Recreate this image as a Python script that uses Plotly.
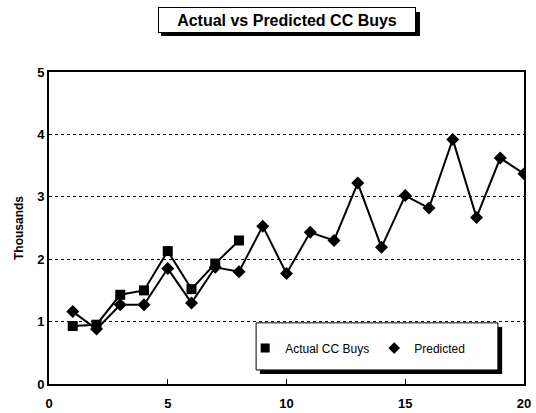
import plotly.graph_objects as go

x_actual = [1, 2, 3, 4, 5, 6, 7, 8]
actual = [0.93, 0.95, 1.43, 1.50, 2.13, 1.52, 1.93, 2.30]
x_pred = list(range(1, 21))
predicted = [1.16, 0.88, 1.27, 1.27, 1.85, 1.30, 1.87, 1.80, 2.53, 1.77,
             2.43, 2.30, 3.22, 2.19, 3.02, 2.82, 3.92, 2.67, 3.62, 3.37]
x_ticks = [0, 5, 10, 15, 20]
y_ticks = [0, 1, 2, 3, 4, 5]

FAM = "Liberation Sans, Arial, sans-serif"

fig = go.Figure()
fig.add_trace(go.Scatter(x=x_actual, y=actual, mode="lines+markers", name="Actual CC Buys",
                         showlegend=False,
                         line=dict(color="black", width=2),
                         marker=dict(symbol="square", size=10, color="black")))
fig.add_trace(go.Scatter(x=x_pred, y=predicted, mode="lines+markers", name="Predicted",
                         showlegend=False,
                         line=dict(color="black", width=2),
                         marker=dict(symbol="diamond", size=10, color="black")))
# legend entries (marker only, as in the reference legend)
fig.add_trace(go.Scatter(x=[None], y=[None], mode="markers", name="Actual CC Buys",
                         marker=dict(symbol="square", size=9, color="black")))
fig.add_trace(go.Scatter(x=[None], y=[None], mode="markers", name="Predicted",
                         marker=dict(symbol="diamond", size=9, color="black")))

shapes = [
    # legend shadow + box
    dict(type="rect", xref="paper", yref="paper", x0=0.444, x1=0.954, y0=0.032, y1=0.183,
         fillcolor="black", line=dict(width=0), layer="above"),
    dict(type="rect", xref="paper", yref="paper", x0=0.436, x1=0.945, y0=0.045, y1=0.196,
         fillcolor="white", line=dict(color="black", width=1), layer="above"),
    # title shadow
    dict(type="rect", xref="paper", yref="paper", x0=0.236, x1=0.781, y0=1.115, y1=1.192,
         fillcolor="black", line=dict(width=0), layer="above"),
]

annotations = [
    dict(text="<b>Actual vs Predicted CC Buys</b>", xref="paper", yref="paper",
         x=0.5, y=1.167, showarrow=False, width=250, height=18,
         font=dict(size=16, family=FAM, color="black"), bgcolor="white",
         bordercolor="black", borderwidth=1, borderpad=3,
         xanchor="center", yanchor="middle"),
]

fig.update_layout(
    width=536, height=413,
    margin=dict(l=49, r=12, t=72, b=29),
    paper_bgcolor="white", plot_bgcolor="white",
    font=dict(size=12, family=FAM, color="black"),
    showlegend=True,
    legend=dict(orientation="h", x=0.413, y=0.115, xanchor="left", yanchor="middle",
                bgcolor="rgba(0,0,0,0)", font=dict(size=12, family=FAM, color="black"),
                itemwidth=30, traceorder="normal"),
    shapes=shapes,
    annotations=annotations,
    xaxis=dict(range=[0, 20], tickvals=x_ticks, ticks="inside", ticklen=5, tickcolor="black",
               showgrid=False, showline=True, linecolor="black", linewidth=2, mirror=True,
               zeroline=False, automargin=False, ticklabelstandoff=6,
               tickfont=dict(size=13, family=FAM, color="black", weight="bold")),
    yaxis=dict(range=[0, 5], tickvals=y_ticks, ticks="", showgrid=True,
               gridcolor="black", griddash="dot", gridwidth=1,
               showline=True, linecolor="black", linewidth=2, mirror=True, zeroline=False,
               automargin=False,
               title=dict(text="<b>Thousands</b>", font=dict(size=12, family=FAM, color="black"),
                          standoff=11),
               tickfont=dict(size=13, family=FAM, color="black", weight="bold")),
)

fig.write_html("out.html", config={"displayModeBar": False},
               post_script="document.body.style.margin='0';document.body.style.overflow='hidden';")
